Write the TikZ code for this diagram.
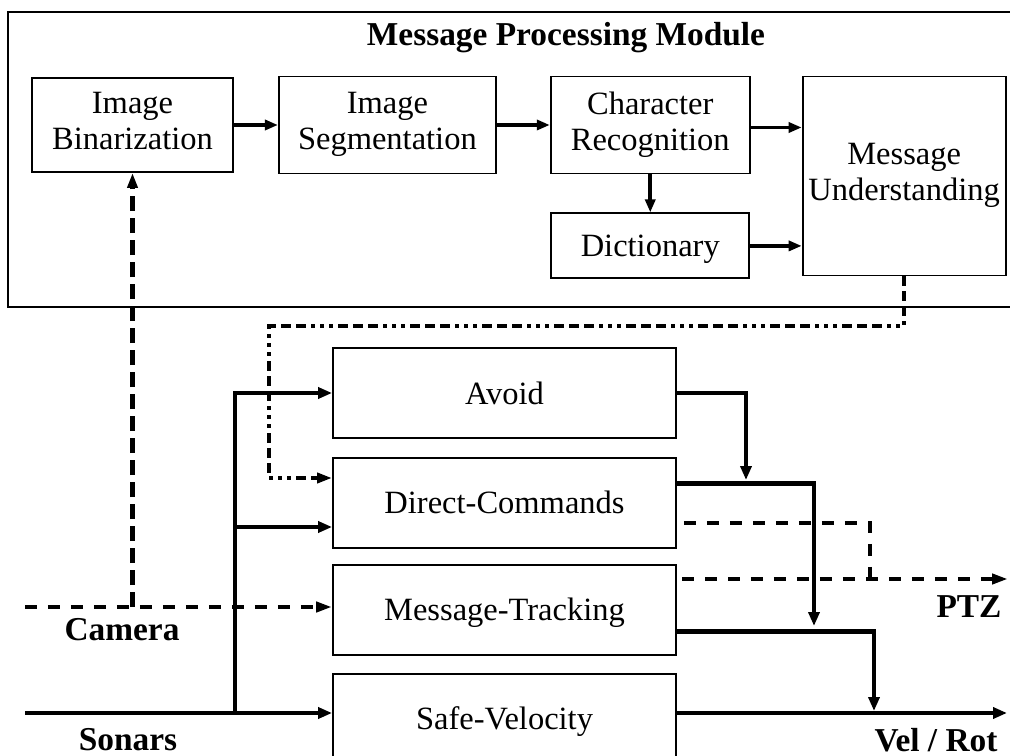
\documentclass[tikz,border=0pt]{standalone}
\usepackage{fontspec}
\setmainfont{Liberation Serif}
\usetikzlibrary{arrows.meta, positioning}

\begin{document}
\begin{tikzpicture}[x=0.02cm, y=-0.02cm,
            block/.style={rectangle, draw, line width=1.1pt, inner sep=0pt, align=center, font=\fontsize{18.5}{20.5}\selectfont, execute at begin node=\rule{0pt}{17.1pt}, execute at end node=\rule[-4.5pt]{0pt}{4.5pt}},
            ctrl/.style={block, minimum width=6.86cm, minimum height=1.8cm},
            tag/.style={inner sep=0pt, font=\bfseries\fontsize{19}{22}\selectfont},
            arrow/.style={line width=2.2pt, -{Triangle[length=0.26cm, width=0.2cm]}},
            bus/.style={line width=2.8pt, -{Triangle[length=0.28cm, width=0.22cm]}},
            dasharrow/.style={line width=2.4pt, dash pattern=on 0.24cm off 0.22cm, -{Triangle[length=0.32cm, width=0.2cm]}},
            dashline/.style={line width=2.4pt, dash pattern=on 0.24cm off 0.22cm},
            vdash/.style={line width=2.4pt, dash pattern=on 0.3cm off 0.14cm, -{Triangle[length=0.3cm, width=0.2cm]}},
            dotarrow/.style={line width=2.3pt, dash pattern=on 0.2cm off 0.1cm on 0.2cm off 0.1cm on 0.2cm off 0.1cm on 0.08cm off 0.1cm on 0.08cm off 0.1cm on 0.08cm off 0.1cm, -{Triangle[length=0.3cm, width=0.2cm]}}
        ]
            \clip (0,0) rectangle (1010,756);

            % message processing module
            \draw[line width=1.3pt] (8,12) rectangle (1016,307);
            \node[tag] (title) at (566,38) {Message Processing Module};

            \node[block, minimum width=4.02cm, minimum height=1.88cm] (bin) at (132.5,125) {Image\\Binarization};
            \node[block, minimum width=4.34cm, minimum height=1.94cm, right=0.88cm of bin] (seg) {Image\\Segmentation};
            \node[block, minimum width=3.98cm, minimum height=1.94cm, right=1.06cm of seg] (chr) {Character\\Recognition};
            \node[block, minimum width=3.96cm, minimum height=1.3cm, below=0.76cm of chr] (dict) {Dictionary};
            \node[block, minimum width=4.06cm, minimum height=3.98cm, right=1.02cm of chr.north east, anchor=north west] (msgu) {Message\\Understanding};

            \draw[arrow] (bin) -- (seg);
            \draw[arrow] (seg) -- (chr);
            \draw[arrow] ([yshift=-0.05cm]chr.east) -- ([yshift=-0.05cm]chr.east -| msgu.west);
            \draw[arrow] (chr) -- (dict);
            \draw[arrow] (dict) -- (dict -| msgu.west);

            % behaviours
            \node[ctrl] (avoid) at (504.5,393) {Avoid};
            \node[ctrl, below=0.36cm of avoid] (direct) {Direct-Commands};
            \node[ctrl, below=0.3cm of direct] (track) {Message-Tracking};
            \node[ctrl, below=0.34cm of track] (safe) {Safe-Velocity};

            \node[tag] (camera) at (122,630) {Camera};
            \node[tag] (sonars) at (128,740) {Sonars};
            \node[tag] (ptz) at (969,607) {PTZ};
            \node[tag] (velrot) at (936,740) {Vel / Rot};

            \coordinate (camin) at (25,607);
            \coordinate (sonin) at (25,713);
            \coordinate (fork) at (235,713);
            \coordinate (fork2) at (235,527);
            \coordinate (back) at (269,326);
            \coordinate (cmdin) at (269,478);
            \coordinate (j1) at (746,480);
            \coordinate (j2) at (814,626);
            \coordinate (j3) at (874,711);
            \coordinate (j4) at (870,577);
            \coordinate (ptzout) at (682,579);
            \coordinate (ptzend) at (1008,579);
            \coordinate (velend) at (1007,713);

            % inputs
            \draw[dasharrow] (camin) -- (camin -| track.west);
            \draw[vdash] (camin -| bin) -- (bin);
            \draw[bus] (sonin) -- (sonin -| safe.west);
            \draw[bus] (fork) |- (avoid.west);
            \draw[bus] (fork2) -- (fork2 -| direct.west);
            \draw[dotarrow] (msgu.south) |- (back) -- (cmdin) -- (cmdin -| direct.west);

            % outputs
            \draw[bus] (avoid.east) -| (j1);
            \draw[bus] ([yshift=0.38cm]direct.east) -| (j2);
            \draw[dashline] ([xshift=0.14cm, yshift=-0.4cm]direct.east) -| (j4);
            \draw[dasharrow] (ptzout) -- (ptzend);
            \draw[bus] ([yshift=-0.43cm]track.east) -| (j3);
            \draw[bus] (safe.east |- velend) -- (velend);
        \end{tikzpicture}
\end{document}
